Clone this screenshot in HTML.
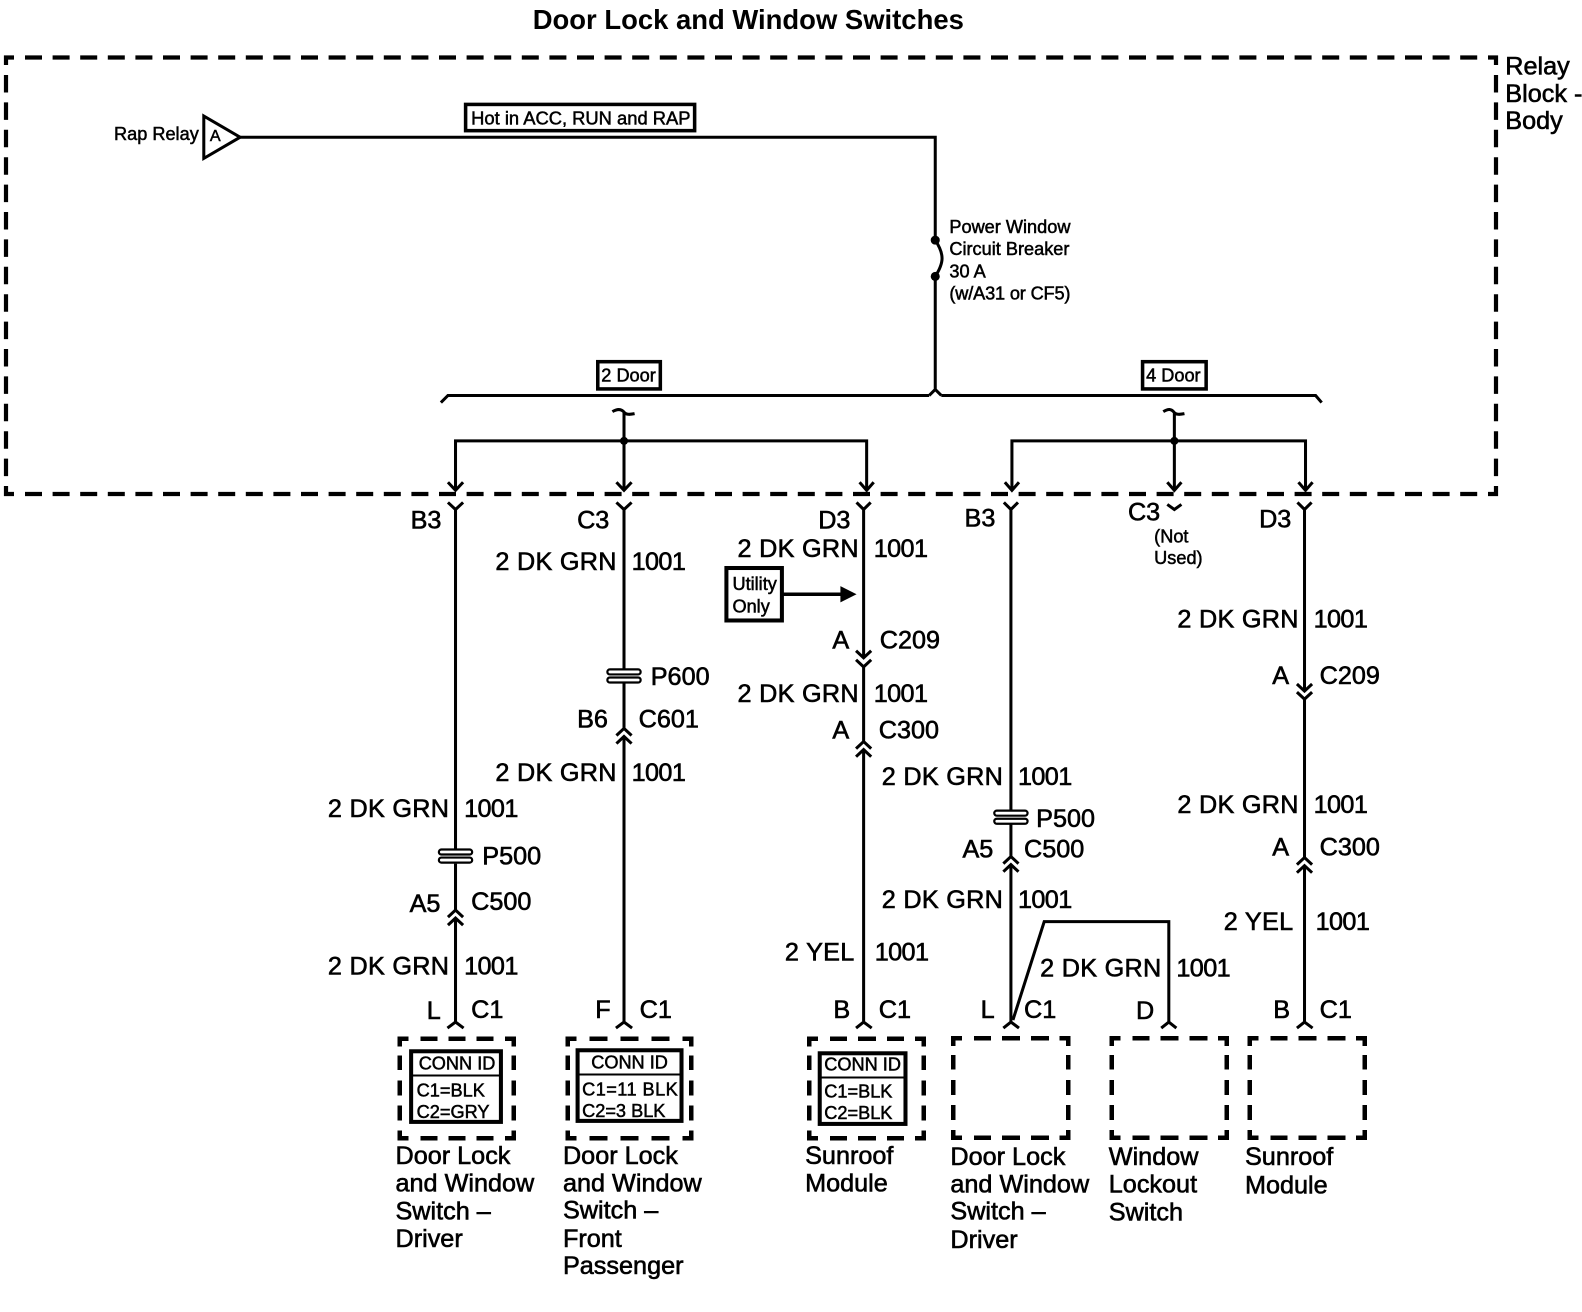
<!DOCTYPE html>
<html><head><meta charset="utf-8"><title>Door Lock and Window Switches</title>
<style>
html,body{margin:0;padding:0;background:#fff;width:1582px;height:1312px;overflow:hidden}
svg{display:block}
text{font-family:"Liberation Sans",sans-serif;fill:#000;stroke:#000;stroke-width:.6;dominant-baseline:central;font-size:25px;transform:translateY(1px)}
.s text,text.s{font-size:18px;stroke-width:.5}
text.n{letter-spacing:-.6px}
text.g{letter-spacing:.28px}
.w{fill:none;stroke:#000;stroke-width:3}
.o{fill:none;stroke:#000;stroke-width:4.2}
.d{fill:none;stroke:#000;stroke-width:4.5}
.b{fill:#fff;stroke:#000;stroke-width:3.5}
.p{fill:#fff;stroke:#000;stroke-width:2.2}
</style></head><body>
<svg width="1582" height="1312" viewBox="0 0 1582 1312" xmlns="http://www.w3.org/2000/svg">
<!-- outer relay block border, reference pixel coordinates -->
<path class="o" d="M6,65 V57.500 H14 M1488,57.500 H1496 V65 M6,486 V494 H14 M1488,494 H1496 V486"/>
<path class="o" stroke-dasharray="17 10.600" d="M25,57.500 H1482"/>
<path class="o" stroke-dasharray="17 10.600" d="M25,494 H1482"/>
<path class="o" stroke-dasharray="17.500 9.900" d="M6,75 V480"/>
<path class="o" stroke-dasharray="17.500 9.900" d="M1496,75 V480"/>

<!-- module boxes, reference pixel coordinates -->
<g class="d">
<path transform="translate(397.500 1036.500)" d="M2.250,10 V2.250 H11 M107.500,2.250 H116.250 V10 M2.250,94 V101.750 H11 M107.500,101.750 H116.250 V94 M23,2.250 H40 M51,2.250 H68 M79,2.250 H96 M23,101.750 H40 M51,101.750 H68 M79,101.750 H96 M2.250,19 V33.500 M2.250,44 V59 M2.250,69 V84 M116.250,19 V33.500 M116.250,44 V59 M116.250,69 V84"/>
<path transform="translate(565.500 1036.500)" d="M2.250,10 V2.250 H11 M117,2.250 H125.750 V10 M2.250,94 V101.750 H11 M117,101.750 H125.750 V94 M24,2.250 H42 M55,2.250 H73 M86,2.250 H104 M24,101.750 H42 M55,101.750 H73 M86,101.750 H104 M2.250,19 V33.500 M2.250,44 V59 M2.250,69 V84 M125.750,19 V33.500 M125.750,44 V59 M125.750,69 V84"/>
<path transform="translate(807 1036.500)" d="M2.250,10 V2.250 H11 M108,2.250 H116.750 V10 M2.250,94 V101.750 H11 M108,101.750 H116.750 V94 M23,2.250 H40 M51,2.250 H69 M80,2.250 H97 M23,101.750 H40 M51,101.750 H69 M80,101.750 H97 M2.250,19 V33.500 M2.250,44 V59 M2.250,69 V84 M116.750,19 V33.500 M116.750,44 V59 M116.750,69 V84"/>
<path transform="translate(951 1036)" d="M2.250,10 V2.250 H11 M108.500,2.250 H117.250 V10 M2.250,94 V101.750 H11 M108.500,101.750 H117.250 V94 M23,2.250 H40 M51,2.250 H69 M80,2.250 H98 M23,101.750 H40 M51,101.750 H69 M80,101.750 H98 M2.250,19 V33.500 M2.250,44 V59 M2.250,69 V84 M117.250,19 V33.500 M117.250,44 V59 M117.250,69 V84"/>
<path transform="translate(1109.500 1036)" d="M2.250,10 V2.250 H11 M108.500,2.250 H117.250 V10 M2.250,94 V101.750 H11 M108.500,101.750 H117.250 V94 M23,2.250 H40 M51,2.250 H69 M80,2.250 H98 M23,101.750 H40 M51,101.750 H69 M80,101.750 H98 M2.250,19 V33.500 M2.250,44 V59 M2.250,69 V84 M117.250,19 V33.500 M117.250,44 V59 M117.250,69 V84"/>
<path transform="translate(1247.500 1036)" d="M2.250,10 V2.250 H11 M108.500,2.250 H117.250 V10 M2.250,94 V101.750 H11 M108.500,101.750 H117.250 V94 M23,2.250 H40 M51,2.250 H69 M80,2.250 H98 M23,101.750 H40 M51,101.750 H69 M80,101.750 H98 M2.250,19 V33.500 M2.250,44 V59 M2.250,69 V84 M117.250,19 V33.500 M117.250,44 V59 M117.250,69 V84"/>
</g>

<g transform="scale(1.0089)">
<text x="528" y="18.500" style="font-size:27.2px;font-weight:bold;stroke-width:0">Door Lock and Window Switches</text>
<text x="1492" y="65">Relay</text><text x="1492" y="92">Block -</text><text x="1492" y="119">Body</text>

<!-- top feed -->
<path class="w" d="M202,115 L238,136 L202,157 Z"/>
<path class="w" d="M238,136 H927 V238 M927,274 V386 M927,386 L921,392 M927,386 L933,392"/>
<path class="w" d="M927,238 C936,252 936,260 927,274"/>
<circle cx="927" cy="238" r="4.500"/><circle cx="927" cy="274" r="4.500"/>
<path class="w" d="M437,399 L444,392 H921 M933,392 H1304 L1310,399"/>
<g class="s">
<text x="113" y="132">Rap Relay</text><text x="208" y="134" style="font-size:16px">A</text>
<text x="941" y="224">Power Window</text><text x="941" y="246">Circuit Breaker</text><text x="941" y="268">30 A</text><text x="941" y="290" style="letter-spacing:-.15px">(w/A31 or CF5)</text>
</g>
<rect class="b" x="461.500" y="103.500" width="227" height="26"/><text x="467" y="116" class="s" style="font-size:18.200px">Hot in ACC, RUN and RAP</text>
<rect class="b" x="592.500" y="358.500" width="62" height="27"/><text x="596" y="371" class="s">2 Door</text>
<rect class="b" x="1132.500" y="358.500" width="63" height="27"/><text x="1136" y="371" class="s">4 Door</text>

<!-- 2 door branch -->
<path class="w" d="M607,408 C612,405 616,405 619,409 C621,411 624,411 629,410 M618.500,409 V486 M451.500,486 V437 H859 V486"/>
<circle cx="618.500" cy="437" r="4"/>
<path class="w" d="M444,478 L451.500,486 L459,478 M611,478 L618.500,486 L626,478 M852,478 L859,486 L866,478"/>
<!-- 4 door branch -->
<path class="w" d="M1153,408 C1158,405 1161,405 1164,409 C1166,411 1169,411 1174,410 M1164,409 V486 M1003,486 V437 H1294 V486"/>
<circle cx="1164" cy="437" r="4"/>
<path class="w" d="M996,478 L1003,486 L1010,478 M1157,478 L1164,486 L1171,478 M1287,478 L1294,486 L1301,478"/>
<path class="w" d="M1157,500 L1164,505 L1171,500"/>

<!-- wire 1 -->
<path class="w" d="M444,498 L451.500,505 L459,498 M451.500,505 V842 M451.500,856 V902 M444,909 L451.500,902 L459,909 M444,917 L451.500,910 L459,917 M451.500,910 V1013 M443.500,1019 L451.500,1013 L459.500,1019"/>
<rect class="p" x="435" y="842" width="33" height="5" rx="2.500"/><rect class="p" x="435" y="850" width="33" height="5" rx="2.500"/>
<!-- wire 2 -->
<path class="w" d="M611,498 L618.500,505 L626,498 M618.500,505 V664 M618.500,677 V722 M611,729 L618.500,722 L626,729 M611,737 L618.500,730 L626,737 M618.500,730 V1013 M610.500,1019 L618.500,1013 L626.500,1019"/>
<rect class="p" x="602" y="663.500" width="33" height="5" rx="2.500"/><rect class="p" x="602" y="671.500" width="33" height="5" rx="2.500"/>
<!-- wire 3 -->
<path class="w" d="M849,498 L856,505 L863,498 M856,505 V652 M848.500,645 L856,652 L863.500,645 M848.500,654 L856,661 L863.500,654 M856,661 V735 M848.500,742 L856,735 L863.500,742 M848.500,750 L856,743 L863.500,750 M856,743 V1013 M848.500,1019 L856,1013 L864,1019"/>
<rect x="720" y="563" width="55" height="52" fill="#fff" stroke="#000" stroke-width="4"/>
<path d="M776,589 H834" class="w" style="stroke-width:3.500"/><path d="M833,581 L849,589 L833,597 Z"/>
<!-- wire 4 -->
<path class="w" d="M995,498 L1002,505 L1009,498 M1002,505 V803 M1002,817 V849 M994.500,856 L1002,849 L1009.500,856 M994.500,864 L1002,857 L1009.500,864 M1002,857 V1013 M994.500,1019 L1002,1013 L1010,1019"/>
<rect class="p" x="985.500" y="803.500" width="33" height="5" rx="2.500"/><rect class="p" x="985.500" y="811.500" width="33" height="5" rx="2.500"/>
<path class="w" d="M1004,1011 L1035,913.500 H1158.500 V1013 M1151,1019 L1158.500,1013 L1166,1019"/>
<!-- wire 6 -->
<path class="w" d="M1286,498 L1293,505 L1300,498 M1293,505 V685 M1285.500,678 L1293,685 L1300.500,678 M1285.500,686 L1293,693 L1300.500,686 M1293,693 V850 M1285.500,857 L1293,850 L1300.500,857 M1285.500,865 L1293,858 L1300.500,865 M1293,858 V1013 M1285.500,1019 L1293,1013 L1301,1019"/>

<rect x="407.500" y="1042" width="89" height="70" fill="none" stroke="#000" stroke-width="4"/><path class="w" style="stroke-width:2" d="M407,1066 H497"/>
<rect x="572.500" y="1041" width="103" height="70" fill="none" stroke="#000" stroke-width="4"/><path class="w" style="stroke-width:2" d="M572,1065 H676"/>
<rect x="812.500" y="1044" width="85" height="70" fill="none" stroke="#000" stroke-width="4"/><path class="w" style="stroke-width:2" d="M812,1068 H898"/>
<g class="s">
<text x="415" y="1053">CONN ID</text><text x="413" y="1080">C1=BLK</text><text x="413" y="1101">C2=GRY</text>
<text x="586" y="1052">CONN ID</text><text x="577" y="1079" style="letter-spacing:.45px">C1=11 BLK</text><text x="577" y="1100">C2=3 BLK</text>
<text x="817" y="1054">CONN ID</text><text x="817" y="1081">C1=BLK</text><text x="817" y="1102">C2=BLK</text>
<text x="726" y="578">Utility</text><text x="726" y="600">Only</text>
<text x="1144" y="531">(Not</text><text x="1144" y="552">Used)</text>
</g>

<!-- column 1 labels -->
<text x="407" y="515">B3</text><text class="g" x="325" y="801">2 DK GRN</text><text class="n" x="460" y="801">1001</text><text x="478" y="848">P500</text><text x="406" y="895">A5</text><text x="467" y="893">C500</text><text class="g" x="325" y="957">2 DK GRN</text><text class="n" x="460" y="957">1001</text><text x="423" y="1001">L</text><text x="467" y="1000">C1</text>
<!-- column 2 -->
<text x="572" y="515">C3</text><text class="g" x="491" y="556">2 DK GRN</text><text class="n" x="626" y="556">1001</text><text x="645" y="670">P600</text><text x="572" y="712">B6</text><text x="633" y="712">C601</text><text class="g" x="491" y="765">2 DK GRN</text><text class="n" x="626" y="765">1001</text><text x="590" y="1000">F</text><text x="634" y="1000">C1</text>
<!-- column 3 -->
<text x="811" y="515">D3</text><text class="g" x="731" y="543">2 DK GRN</text><text class="n" x="866" y="543">1001</text><text x="825" y="634">A</text><text x="872" y="634">C209</text><text class="g" x="731" y="687">2 DK GRN</text><text class="n" x="866" y="687">1001</text><text x="825" y="723">A</text><text x="871" y="723">C300</text><text class="g" x="778" y="943">2 YEL</text><text class="n" x="867" y="943">1001</text><text x="826" y="1000">B</text><text x="871" y="1000">C1</text>
<!-- column 4 -->
<text x="956" y="513">B3</text><text class="g" x="874" y="769">2 DK GRN</text><text class="n" x="1009" y="769">1001</text><text x="1027" y="811">P500</text><text x="954" y="841">A5</text><text x="1015" y="841">C500</text><text class="g" x="874" y="891">2 DK GRN</text><text class="n" x="1009" y="891">1001</text><text x="972" y="1000">L</text><text x="1015" y="1000">C1</text><text class="g" x="1031" y="959">2 DK GRN</text><text class="n" x="1166" y="959">1001</text><text x="1126" y="1001">D</text>
<!-- column 5/6 -->
<text x="1118" y="507">C3</text><text x="1248" y="514">D3</text><text class="g" x="1167" y="613">2 DK GRN</text><text class="n" x="1302" y="613">1001</text><text x="1261" y="669">A</text><text x="1308" y="669">C209</text><text class="g" x="1167" y="797">2 DK GRN</text><text class="n" x="1302" y="797">1001</text><text x="1261" y="839">A</text><text x="1308" y="839">C300</text><text class="g" x="1213" y="913">2 YEL</text><text class="n" x="1304" y="913">1001</text><text x="1262" y="1000">B</text><text x="1308" y="1000">C1</text>

<!-- module names -->
<text x="392" y="1145">Door Lock</text><text x="392" y="1172">and Window</text><text x="392" y="1200">Switch –</text><text x="392" y="1227">Driver</text>
<text x="558" y="1145">Door Lock</text><text x="558" y="1172">and Window</text><text x="558" y="1199">Switch –</text><text x="558" y="1227">Front</text><text x="558" y="1254">Passenger</text>
<text x="798" y="1145">Sunroof</text><text x="798" y="1172">Module</text>
<text x="942" y="1146">Door Lock</text><text x="942" y="1173">and Window</text><text x="942" y="1200">Switch –</text><text x="942" y="1228">Driver</text>
<text x="1099" y="1146">Window</text><text x="1099" y="1173">Lockout</text><text x="1099" y="1201">Switch</text>
<text x="1234" y="1146">Sunroof</text><text x="1234" y="1174">Module</text>
</g>
</svg>
</body></html>
